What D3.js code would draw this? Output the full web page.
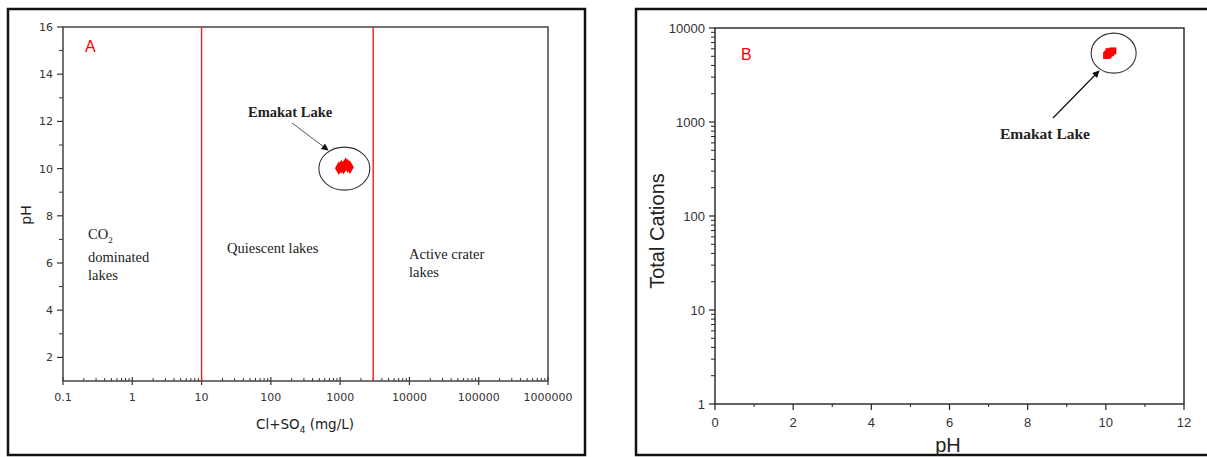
<!DOCTYPE html>
<html>
<head>
<meta charset="utf-8">
<script src="https://cdn.jsdelivr.net/npm/d3@7"></script>
<style>
  html, body { margin: 0; padding: 0; background: #fff; }
  svg { display: block; }
</style>
</head>
<body>
<svg id="chart" width="1207" height="457"></svg>
<script>
// Emakat Lake samples
const lakeClSO4 = [960, 1040, 1120, 1200, 1280, 1380];      // Cl+SO4 (mg/L)
const lakePH = [10.02, 10.08, 10.05, 10.18, 10.12, 10.06];   // pH
const lakeCations = [5100, 5600, 5300, 5700, 5450, 5200];    // total cations

// Lake-type boundaries on Cl+SO4
const boundaries = [10, 3000];

// Tick values
const xTicksA = [0.1, 1, 10, 100, 1000, 10000, 100000, 1000000];
const yTicksA = [2, 4, 6, 8, 10, 12, 14, 16];
const xTicksB = [0, 2, 4, 6, 8, 10, 12];
const yTicksB = [1, 10, 100, 1000, 10000];

const svg = d3.select("#chart");
const sans = "'DejaVu Sans', Verdana, sans-serif";
const arial = "'Liberation Sans', Arial, sans-serif";
const serif = "'Liberation Serif', 'Times New Roman', serif";

svg.append("defs").append("marker")
  .attr("id", "arrow").attr("viewBox", "0 0 10 10")
  .attr("refX", 9).attr("refY", 5)
  .attr("markerWidth", 9).attr("markerHeight", 7)
  .attr("markerUnits", "userSpaceOnUse")
  .attr("orient", "auto")
  .append("path").attr("d", "M0,0L10,5L0,10z").attr("fill", "#111");

// ---------- Panel A ----------
svg.append("rect").attr("x", 8).attr("y", 9).attr("width", 577).attr("height", 446)
  .attr("fill", "none").attr("stroke", "#111").attr("stroke-width", 2.5);

const xA = d3.scaleLog().domain([0.1, 1e6]).range([63, 548]);
const yA = d3.scaleLinear().domain([1, 16]).range([381, 27]);

const gA = svg.append("g");

// minor x ticks (inside)
const minorXA = [];
for (let e = -1; e < 6; e++) for (let m = 2; m <= 9; m++) minorXA.push(m * Math.pow(10, e));
gA.append("g").selectAll("line").data(minorXA).join("line")
  .attr("x1", d => xA(d)).attr("x2", d => xA(d))
  .attr("y1", yA(1)).attr("y2", yA(1) - 3)
  .attr("stroke", "#333").attr("stroke-width", 1);
gA.append("g").selectAll("line").data(xTicksA).join("line")
  .attr("x1", d => xA(d)).attr("x2", d => xA(d))
  .attr("y1", yA(1) - 4).attr("y2", yA(1) + 4)
  .attr("stroke", "#333").attr("stroke-width", 1.2);
gA.append("g").selectAll("text").data(xTicksA).join("text")
  .attr("x", d => xA(d)).attr("y", 401)
  .attr("text-anchor", "middle").attr("font-family", sans).attr("font-size", 11)
  .attr("fill", "#333").text(d => d3.format("")(d));

// y ticks (outside)
const minorYA = d3.range(3, 16, 2);
gA.append("g").selectAll("line").data(minorYA).join("line")
  .attr("x1", 63).attr("x2", 59).attr("y1", d => yA(d)).attr("y2", d => yA(d))
  .attr("stroke", "#333").attr("stroke-width", 1);
gA.append("g").selectAll("line").data(yTicksA).join("line")
  .attr("x1", 63).attr("x2", 57).attr("y1", d => yA(d)).attr("y2", d => yA(d))
  .attr("stroke", "#333").attr("stroke-width", 1.2);
gA.append("g").selectAll("text").data(yTicksA).join("text")
  .attr("x", 53).attr("y", d => yA(d) + 4)
  .attr("text-anchor", "end").attr("font-family", sans).attr("font-size", 11)
  .attr("fill", "#333").text(d => d);

// plot frame
gA.append("rect").attr("x", 63).attr("y", 27).attr("width", 485).attr("height", 354)
  .attr("fill", "none").attr("stroke", "#444").attr("stroke-width", 1.5);

// boundaries
gA.append("g").selectAll("line").data(boundaries).join("line")
  .attr("x1", d => xA(d)).attr("x2", d => xA(d))
  .attr("y1", yA(16)).attr("y2", yA(1))
  .attr("stroke", "#f02020").attr("stroke-width", 1.4);

// axis titles
const tA = gA.append("text").attr("x", 305).attr("y", 429)
  .attr("text-anchor", "middle").attr("font-family", sans).attr("font-size", 13.5).attr("fill", "#222");
tA.append("tspan").text("Cl+SO");
tA.append("tspan").attr("font-size", 9).attr("dy", 4).text("4");
tA.append("tspan").attr("dy", -4).text(" (mg/L)");
gA.append("text").attr("transform", "translate(31,215) rotate(-90)")
  .attr("text-anchor", "middle").attr("font-family", sans).attr("font-size", 14)
  .attr("fill", "#222").text("pH");

gA.append("text").attr("x", 85).attr("y", 52).attr("font-family", arial)
  .attr("font-size", 16).attr("fill", "#f00").text("A");

// region labels
const co2 = gA.append("text").attr("x", 88).attr("y", 239)
  .attr("font-family", serif).attr("font-size", 14.5).attr("fill", "#222");
co2.append("tspan").text("CO");
co2.append("tspan").attr("font-size", 9).attr("dy", 4).text("2");
gA.append("text").attr("x", 88).attr("y", 262).attr("font-family", serif)
  .attr("font-size", 14.5).attr("fill", "#222").text("dominated");
gA.append("text").attr("x", 88).attr("y", 280).attr("font-family", serif)
  .attr("font-size", 14.5).attr("fill", "#222").text("lakes");
gA.append("text").attr("x", 227).attr("y", 253).attr("font-family", serif)
  .attr("font-size", 14.5).attr("fill", "#222").text("Quiescent lakes");
gA.append("text").attr("x", 409).attr("y", 259).attr("font-family", serif)
  .attr("font-size", 14.5).attr("fill", "#222").text("Active crater");
gA.append("text").attr("x", 409).attr("y", 277).attr("font-family", serif)
  .attr("font-size", 14.5).attr("fill", "#222").text("lakes");

// data
gA.append("g").selectAll("path").data(lakePH).join("path")
  .attr("transform", (d, i) => `translate(${xA(lakeClSO4[i])},${yA(d)})`)
  .attr("d", d3.symbol(d3.symbolDiamond, 55)).attr("fill", "#f00");

// annotation
gA.append("ellipse").attr("cx", xA(1150)).attr("cy", yA(10.0))
  .attr("rx", 25.5).attr("ry", 21.5)
  .attr("fill", "none").attr("stroke", "#333").attr("stroke-width", 1.1);
gA.append("text").attr("x", 248).attr("y", 117).attr("font-family", serif)
  .attr("font-weight", "bold").attr("font-size", 14.5).attr("fill", "#222").text("Emakat Lake");
gA.append("line").attr("x1", 292).attr("y1", 123).attr("x2", 328).attr("y2", 150)
  .attr("stroke", "#555").attr("stroke-width", 1).attr("marker-end", "url(#arrow)");

// ---------- Panel B ----------
svg.append("rect").attr("x", 636).attr("y", 9).attr("width", 620).attr("height", 446)
  .attr("fill", "none").attr("stroke", "#111").attr("stroke-width", 2.5);

const xB = d3.scaleLinear().domain([0, 12]).range([715, 1184]);
const yB = d3.scaleLog().domain([1, 10000]).range([404, 28]);

const gB = svg.append("g");

const minorXB = d3.range(1, 12, 2);
gB.append("g").selectAll("line").data(minorXB).join("line")
  .attr("x1", d => xB(d)).attr("x2", d => xB(d))
  .attr("y1", yB(1)).attr("y2", yB(1) + 3)
  .attr("stroke", "#222").attr("stroke-width", 1);
gB.append("g").selectAll("line").data(xTicksB).join("line")
  .attr("x1", d => xB(d)).attr("x2", d => xB(d))
  .attr("y1", yB(1)).attr("y2", yB(1) + 6)
  .attr("stroke", "#222").attr("stroke-width", 1.2);
gB.append("g").selectAll("text").data(xTicksB).join("text")
  .attr("x", d => xB(d)).attr("y", 427)
  .attr("text-anchor", "middle").attr("font-family", arial).attr("font-size", 13)
  .attr("fill", "#333").text(d => d);

const minorYB = [];
for (let e = 0; e < 4; e++) for (let m = 2; m <= 9; m++) minorYB.push(m * Math.pow(10, e));
gB.append("g").selectAll("line").data(minorYB).join("line")
  .attr("x1", 715).attr("x2", 711).attr("y1", d => yB(d)).attr("y2", d => yB(d))
  .attr("stroke", "#222").attr("stroke-width", 1);
gB.append("g").selectAll("line").data(yTicksB).join("line")
  .attr("x1", 715).attr("x2", 709).attr("y1", d => yB(d)).attr("y2", d => yB(d))
  .attr("stroke", "#222").attr("stroke-width", 1.2);
gB.append("g").selectAll("text").data(yTicksB).join("text")
  .attr("x", 705).attr("y", d => yB(d) + 5)
  .attr("text-anchor", "end").attr("font-family", arial).attr("font-size", 13)
  .attr("fill", "#333").text(d => d);

gB.append("rect").attr("x", 715).attr("y", 28).attr("width", 469).attr("height", 376)
  .attr("fill", "none").attr("stroke", "#222").attr("stroke-width", 1.4);

gB.append("text").attr("x", 948).attr("y", 452).attr("text-anchor", "middle")
  .attr("font-family", arial).attr("font-size", 20).attr("fill", "#222").text("pH");
gB.append("text").attr("transform", "translate(664,231) rotate(-90)")
  .attr("text-anchor", "middle").attr("font-family", arial).attr("font-size", 20)
  .attr("fill", "#222").text("Total Cations");

gB.append("text").attr("x", 741).attr("y", 60).attr("font-family", arial)
  .attr("font-size", 16).attr("fill", "#f00").text("B");

gB.append("g").selectAll("rect").data(lakePH).join("rect")
  .attr("x", d => xB(d) - 3.5).attr("y", (d, i) => yB(lakeCations[i]) - 3.5)
  .attr("width", 7).attr("height", 7).attr("fill", "#f00");

gB.append("ellipse").attr("cx", xB(10.2)).attr("cy", yB(5400))
  .attr("rx", 22.5).attr("ry", 20)
  .attr("fill", "none").attr("stroke", "#333").attr("stroke-width", 1.1);
gB.append("text").attr("x", 1000).attr("y", 139).attr("font-family", serif)
  .attr("font-weight", "bold").attr("font-size", 15.5).attr("fill", "#222").text("Emakat Lake");
gB.append("line").attr("x1", 1053).attr("y1", 118).attr("x2", 1099).attr("y2", 71)
  .attr("stroke", "#111").attr("stroke-width", 1.2).attr("marker-end", "url(#arrow)");
</script>
</body>
</html>
